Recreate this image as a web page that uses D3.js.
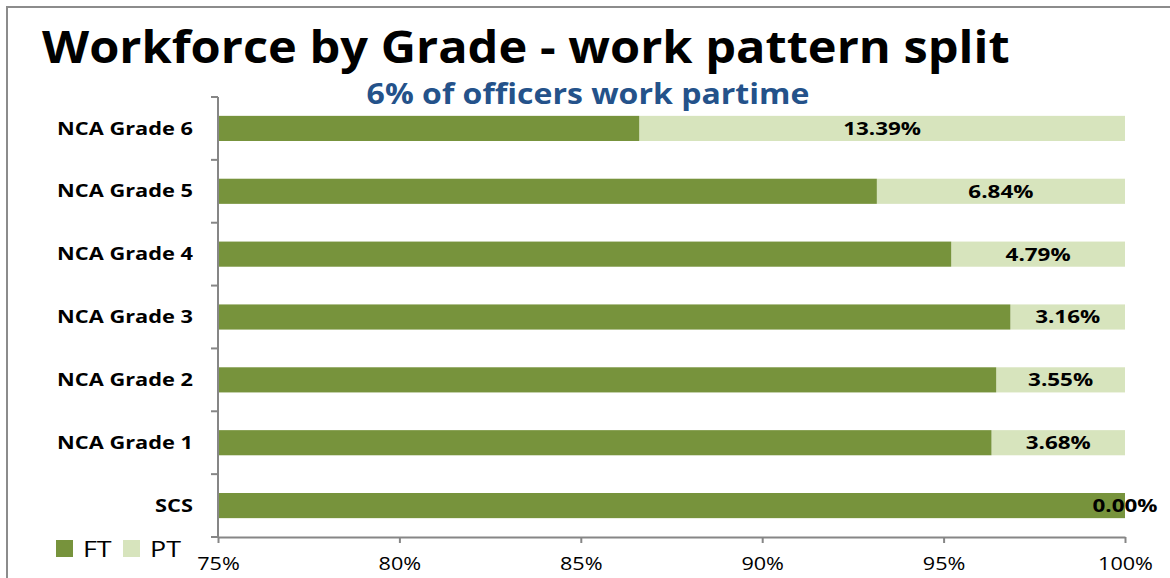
<!DOCTYPE html>
<html><head><meta charset="utf-8">
<script src="https://cdn.jsdelivr.net/npm/d3@7"></script>
<style>
html,body{margin:0;padding:0;background:#fff;}
svg{display:block;}
text{font-family:"Open Sans","DejaVu Sans",sans-serif;}
</style></head>
<body>
<svg id="chart" width="1170" height="578"></svg>
<script>
const categories = ["NCA Grade 6","NCA Grade 5","NCA Grade 4","NCA Grade 3","NCA Grade 2","NCA Grade 1","SCS"];
const ftValues = [86.61, 93.16, 95.21, 96.84, 96.45, 96.32, 100.00];
const ptValues = [13.39, 6.84, 4.79, 3.16, 3.55, 3.68, 0.00];
const xTicks = [75, 80, 85, 90, 95, 100];
const seriesNames = ["FT","PT"];
const colors = {FT:"#77933C", PT:"#D7E4BD"};
const titleText = "Workforce by Grade - work pattern split";
const subtitleText = "6% of officers work partime";

const svg = d3.select("#chart");
const W = 1170, H = 578;
const m = {left:218, right:45, top:97, bottom:41};

// outer frame
svg.append("rect").attr("x",7).attr("y",7).attr("width",W+10).attr("height",H+10)
  .attr("fill","none").attr("stroke","#8c8c8c").attr("stroke-width",2);

// horizontal stretch: the reference text is wider than its height suggests
function stretch(sel, refNode, target){
  const sx = target / refNode.getComputedTextLength();
  sel.each(function(){
    const t = d3.select(this);
    const x0 = +t.attr("x");
    t.attr("transform", `translate(${x0},0) scale(${sx},1) translate(${-x0},0)`);
  });
}

const title = svg.append("text").attr("x",42).attr("y",63)
  .attr("font-size",45).attr("font-weight",700).attr("fill","#000").text(titleText);
stretch(title, title.node(), 968);

const sub = svg.append("text").attr("x",588).attr("y",104).attr("text-anchor","middle")
  .attr("font-size",28).attr("font-weight",700).attr("fill","#24528A").text(subtitleText);
stretch(sub, sub.node(), 443);

const x = d3.scaleLinear().domain([75,100]).range([m.left, W-m.right]);
const y = d3.scaleBand().domain(categories).range([m.top, H-m.bottom]).paddingInner(0.6).paddingOuter(0.3);

const data = categories.map((c,i)=>({cat:c, FT:ftValues[i], PT:ptValues[i]}));

// PT segments (from FT end to 100)
svg.append("g").selectAll("rect").data(data).join("rect")
  .attr("x",d=>x(d.FT)).attr("width",d=>x(100)-x(d.FT))
  .attr("y",d=>y(d.cat)).attr("height",y.bandwidth()).attr("fill",colors.PT);
// FT segments
svg.append("g").selectAll("rect").data(data).join("rect")
  .attr("x",x(75)).attr("width",d=>x(d.FT)-x(75))
  .attr("y",d=>y(d.cat)).attr("height",y.bandwidth()).attr("fill",colors.FT);

// value labels
const vl = svg.append("g").selectAll("text").data(data).join("text")
  .attr("x",d=>(x(d.FT)+x(100))/2).attr("y",d=>y(d.cat)+y.bandwidth()/2)
  .attr("dy","0.36em").attr("text-anchor","middle")
  .attr("font-size",18).attr("font-weight",700).attr("fill","#000")
  .text(d=>d.PT.toFixed(2)+"%");
stretch(vl, vl.nodes()[0], 78);

// x axis
const xAxis = svg.append("g").attr("transform",`translate(0,${H-m.bottom})`)
  .call(d3.axisBottom(x).tickValues(xTicks).tickFormat(d=>d+"%").tickSize(6).tickSizeOuter(0));
xAxis.select(".domain").attr("stroke","#868686").attr("stroke-width",2);
xAxis.selectAll(".tick line").attr("stroke","#868686").attr("stroke-width",2);
const tt = xAxis.selectAll(".tick text").attr("font-size",19).attr("fill","#000")
  .attr("font-family","'Open Sans',sans-serif").attr("y",20).attr("dy","0.71em").attr("x",0);
stretch(tt, tt.nodes()[tt.size()-1], 55);

// y axis with ticks at category boundaries
const yAxisG = svg.append("g");
yAxisG.append("line").attr("x1",m.left).attr("x2",m.left).attr("y1",m.top).attr("y2",H-m.bottom)
  .attr("stroke","#868686").attr("stroke-width",2);
const bounds = d3.range(categories.length+1).map(i=>m.top + (H-m.top-m.bottom)*i/categories.length);
yAxisG.selectAll("line.t").data(bounds).join("line").attr("class","t")
  .attr("x1",m.left-7).attr("x2",m.left).attr("y1",d=>d).attr("y2",d=>d)
  .attr("stroke","#868686").attr("stroke-width",2);
const cl = yAxisG.selectAll("text").data(categories).join("text")
  .attr("x",193).attr("y",d=>y(d)+y.bandwidth()/2).attr("dy","0.36em")
  .attr("text-anchor","end").attr("font-size",17).attr("font-weight",700).attr("fill","#000")
  .text(d=>d);
stretch(cl, cl.nodes()[0], 136);

// legend
const leg = svg.append("g").attr("transform","translate(56,540)");
const items = leg.selectAll("g").data(seriesNames).join("g")
  .attr("transform",(d,i)=>`translate(${i*67},0)`);
items.append("rect").attr("width",17).attr("height",17).attr("fill",d=>colors[d]);
const lt = items.append("text").attr("x",27).attr("y",9).attr("dy","0.36em")
  .attr("font-size",21).attr("fill","#000").text(d=>d);
stretch(lt, lt.nodes()[1], 31);
</script>
</body></html>
